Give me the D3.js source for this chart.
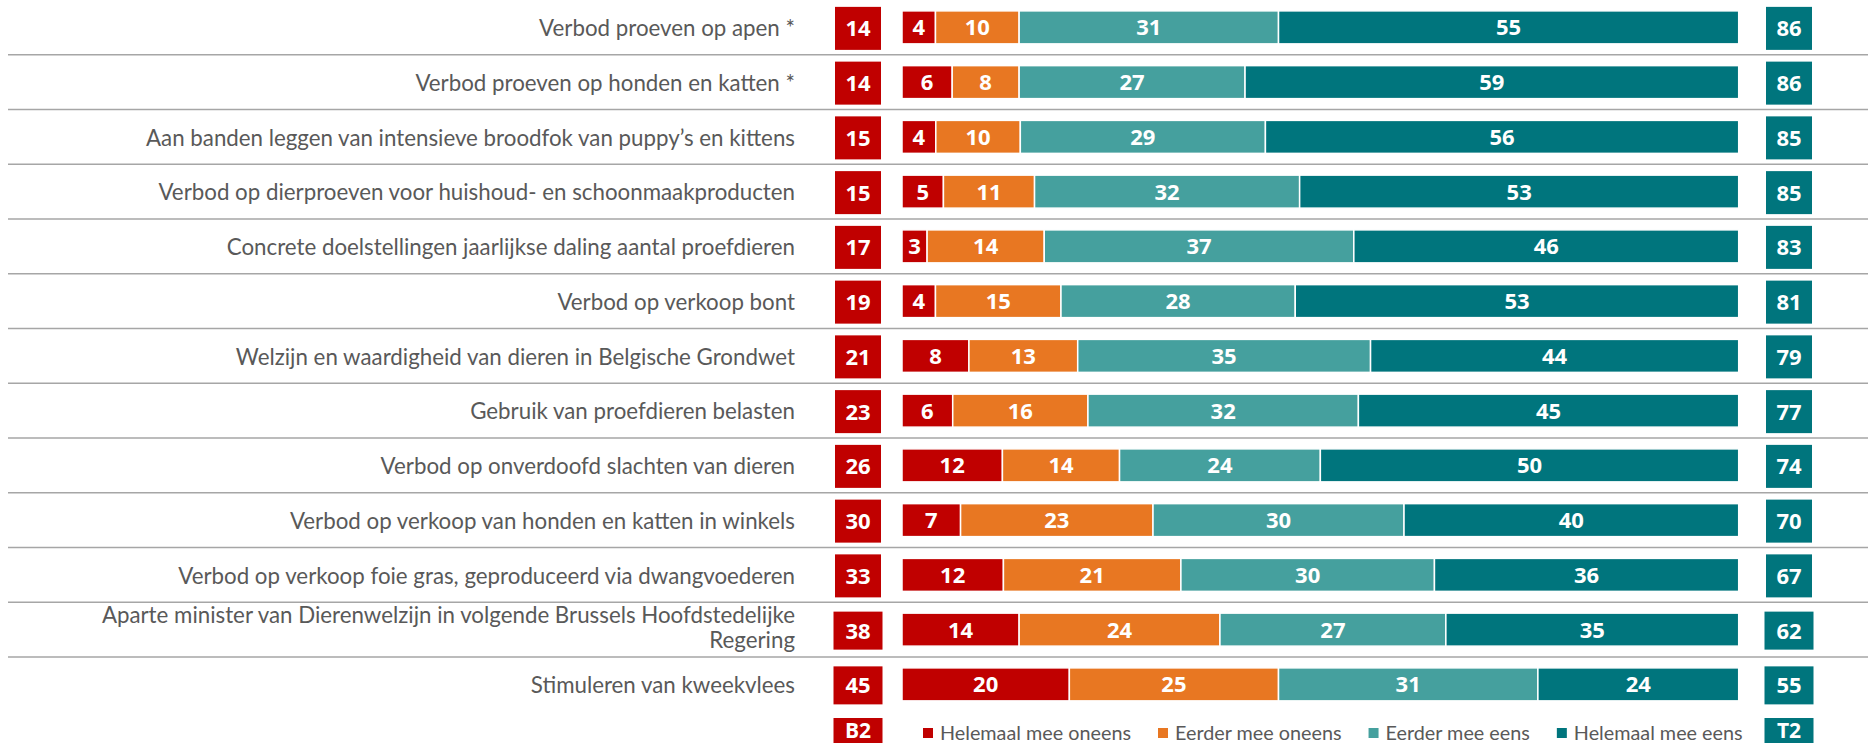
<!DOCTYPE html>
<html>
<head>
<meta charset="utf-8">
<script src="https://cdn.jsdelivr.net/npm/d3@7"></script>
<style>
  html, body { margin: 0; padding: 0; background: #fff; }
  svg { display: block; }
</style>
</head>
<body>
<svg id="chart" width="1868" height="743"></svg>
<script>
// ---------------- DATA ----------------
const categories = [
  "Verbod proeven op apen *",
  "Verbod proeven op honden en katten *",
  "Aan banden leggen van intensieve broodfok van puppy’s en kittens",
  "Verbod op dierproeven voor huishoud- en schoonmaakproducten",
  "Concrete doelstellingen jaarlijkse daling aantal proefdieren",
  "Verbod op verkoop bont",
  "Welzijn en waardigheid van dieren in Belgische Grondwet",
  "Gebruik van proefdieren belasten",
  "Verbod op onverdoofd slachten van dieren",
  "Verbod op verkoop van honden en katten in winkels",
  "Verbod op verkoop foie gras, geproduceerd via dwangvoederen",
  "Aparte minister van Dierenwelzijn in volgende Brussels Hoofdstedelijke Regering",
  "Stimuleren van kweekvlees"
];
const seriesNames = ["Helemaal mee oneens", "Eerder mee oneens", "Eerder mee eens", "Helemaal mee eens"];
const helemaalOneens = [4, 6, 4, 5, 3, 4, 8, 6, 12, 7, 12, 14, 20];
const eerderOneens   = [10, 8, 10, 11, 14, 15, 13, 16, 14, 23, 21, 24, 25];
const eerderEens     = [31, 27, 29, 32, 37, 28, 35, 32, 24, 30, 30, 27, 31];
const helemaalEens   = [55, 59, 56, 53, 46, 53, 44, 45, 50, 40, 36, 35, 24];
const bottom2 = [14, 14, 15, 15, 17, 19, 21, 23, 26, 30, 33, 38, 45];
const top2    = [86, 86, 85, 85, 83, 81, 79, 77, 74, 70, 67, 62, 55];
const b2Label = "B2";
const t2Label = "T2";

// ---------------- STYLE ----------------
const colors = ["#C00000", "#E87722", "#45A09E", "#00757D"];
const labelFont = "Lato, 'Open Sans', sans-serif";
const numFont = "'Open Sans', sans-serif";
const textGray = "#595959";

const svg = d3.select("#chart");
const W = 1868;

const series = [helemaalOneens, eerderOneens, eerderEens, helemaalEens];
const rows = categories.map((c, i) => {
  const vals = series.map(s => s[i]);
  const total = d3.sum(vals);
  let cum = 0;
  const segs = vals.map((v, k) => {
    const s = { k, v, x0: cum / total * 100, x1: (cum + v) / total * 100 };
    cum += v;
    return s;
  });
  return { cat: c, i, segs, b2: bottom2[i], t2: top2[i] };
});

const x = d3.scaleLinear().domain([0, 100]).range([902, 1738.7]);
const y = d3.scaleBand().domain(categories).range([0, 13 * 54.75]).paddingInner(0).paddingOuter(0);
const bw = y.bandwidth();
const rc = c => y(c) + bw / 2;
const barH = 33;

// separators
svg.append("g").selectAll("line")
  .data(categories.slice(0, categories.length - 1))
  .join("line")
  .attr("x1", 8).attr("x2", W)
  .attr("y1", d => y(d) + bw).attr("y2", d => y(d) + bw)
  .attr("stroke", "#A6A6A6").attr("stroke-width", 1.5);

// labels
const labelX = 795;
const maxLabelW = 715;
const lg = svg.append("g");
rows.forEach(r => {
  const t = lg.append("text")
    .attr("x", labelX)
    .attr("text-anchor", "end")
    .attr("font-family", labelFont)
    .attr("font-size", 22.3)
    .attr("fill", textGray);
  const words = r.cat.split(" ");
  const lines = [];
  let cur = [];
  const probe = t.append("tspan");
  words.forEach(w => {
    const trial = cur.concat([w]).join(" ");
    probe.text(trial);
    if (probe.node().getComputedTextLength() > maxLabelW && cur.length) {
      lines.push(cur.join(" "));
      cur = [w];
    } else cur.push(w);
  });
  lines.push(cur.join(" "));
  probe.remove();
  const lh = 25;
  const c = rc(r.cat) + 1;
  lines.forEach((ln, j) => {
    t.append("tspan")
      .attr("x", labelX)
      .attr("y", c + (j - (lines.length - 1) / 2) * lh - (lines.length > 1 ? 3 : 0))
      .attr("dy", "0.35em")
      .text(ln);
  });
});

// box geometry helper
function boxGeom(i) {
  return i >= 11 ? { w: 49, h: 38 } : { w: 46, h: 43 };
}
const b2Center = 858;
const t2Center = 1789;

// B2 boxes
const bg = svg.append("g");
bg.selectAll("rect").data(rows).join("rect")
  .attr("x", d => b2Center - boxGeom(d.i).w / 2)
  .attr("y", d => rc(d.cat) + 1 - boxGeom(d.i).h / 2)
  .attr("width", d => boxGeom(d.i).w)
  .attr("height", d => boxGeom(d.i).h)
  .attr("fill", colors[0]);
bg.selectAll("text").data(rows).join("text")
  .attr("x", b2Center).attr("y", d => rc(d.cat) + 1)
  .attr("dy", "0.36em")
  .attr("text-anchor", "middle")
  .attr("font-family", numFont).attr("font-weight", 700).attr("font-size", 22)
  .attr("fill", "#fff")
  .text(d => d.b2);

// T2 boxes
const tg = svg.append("g");
tg.selectAll("rect").data(rows).join("rect")
  .attr("x", d => t2Center - boxGeom(d.i).w / 2)
  .attr("y", d => rc(d.cat) + 1 - boxGeom(d.i).h / 2)
  .attr("width", d => boxGeom(d.i).w)
  .attr("height", d => boxGeom(d.i).h)
  .attr("fill", colors[3]);
tg.selectAll("text").data(rows).join("text")
  .attr("x", t2Center).attr("y", d => rc(d.cat) + 1)
  .attr("dy", "0.36em")
  .attr("text-anchor", "middle")
  .attr("font-family", numFont).attr("font-weight", 700).attr("font-size", 22)
  .attr("fill", "#fff")
  .text(d => d.t2);

// stacked bars
const barG = svg.append("g");
const rowG = barG.selectAll("g").data(rows).join("g");
rowG.selectAll("rect").data(d => d.segs.map(s => ({ ...s, cat: d.cat }))).join("rect")
  .attr("x", s => x(s.x0))
  .attr("y", s => rc(s.cat) - barH / 2)
  .attr("width", s => x(s.x1) - x(s.x0))
  .attr("height", barH)
  .attr("fill", s => colors[s.k])
  .attr("stroke", "#fff").attr("stroke-width", 1.5);
rowG.selectAll("text").data(d => d.segs.map(s => ({ ...s, cat: d.cat }))).join("text")
  .attr("x", s => (x(s.x0) + x(s.x1)) / 2)
  .attr("y", s => rc(s.cat))
  .attr("dy", "0.36em")
  .attr("text-anchor", "middle")
  .attr("font-family", numFont).attr("font-weight", 700).attr("font-size", 22)
  .attr("fill", "#fff")
  .text(s => s.v);

// legend row
const legY = 733;
svg.append("rect").attr("x", b2Center - 24.5).attr("y", 718).attr("width", 49).attr("height", 38).attr("fill", colors[0]);
svg.append("text").attr("x", b2Center).attr("y", 737.5)
  .attr("text-anchor", "middle")
  .attr("font-family", numFont).attr("font-weight", 700).attr("font-size", 21)
  .attr("fill", "#fff").text(b2Label);
svg.append("rect").attr("x", t2Center - 24.5).attr("y", 718).attr("width", 49).attr("height", 38).attr("fill", colors[3]);
svg.append("text").attr("x", t2Center).attr("y", 737.5)
  .attr("text-anchor", "middle")
  .attr("font-family", numFont).attr("font-weight", 700).attr("font-size", 21)
  .attr("fill", "#fff").text(t2Label);

const leg = svg.append("g");
let lx = 923;
seriesNames.forEach((n, k) => {
  leg.append("rect").attr("x", lx).attr("y", legY - 5).attr("width", 10).attr("height", 10).attr("fill", colors[k]);
  const t = leg.append("text").attr("x", lx + 17).attr("y", legY)
    .attr("dy", "0.35em")
    .attr("font-family", labelFont).attr("font-size", 19.8)
    .attr("fill", textGray).text(n);
  lx += 17 + t.node().getComputedTextLength() + 27;
});
</script>
</body>
</html>
